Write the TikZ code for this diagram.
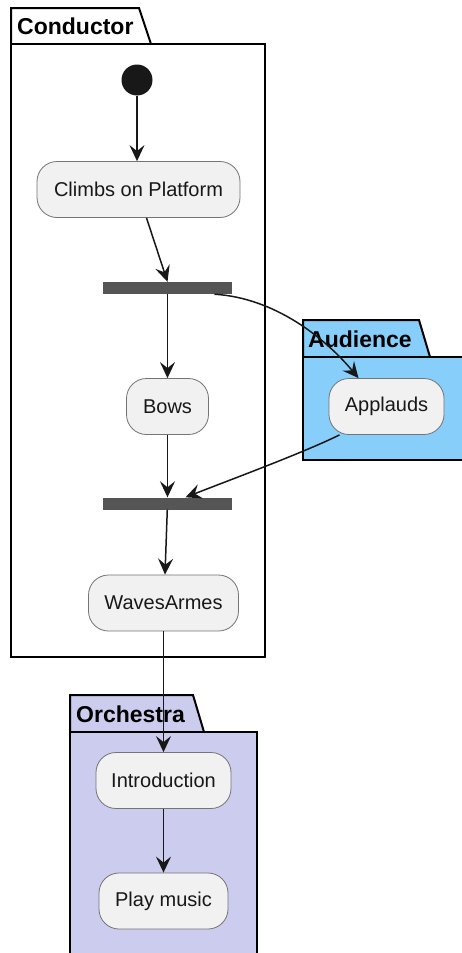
\documentclass[tikz,border=0pt]{standalone}
\usepackage{fontspec}
\setmainfont{Liberation Sans}
\usepackage{tikz}
\usetikzlibrary{arrows.meta,positioning}
\definecolor{ink}{HTML}{181818}
\definecolor{actfill}{HTML}{F1F1F1}
\definecolor{barfill}{HTML}{555555}
\definecolor{audfill}{HTML}{87CEFA}
\definecolor{orchfill}{HTML}{CCCCEE}

\begin{document}
\begin{tikzpicture}[x=1pt, y=-1pt, >={Stealth[length=16pt,width=15pt,inset=6pt]},
  every node/.style={font=\fontsize{20}{24}\selectfont},
  act/.style={draw=ink!60,line width=0.8pt,fill=actfill,rounded corners=20pt,inner sep=0pt,minimum height=56pt,text=ink},
  forkbar/.style={fill=barfill,inner sep=0pt,minimum width=129pt,minimum height=12pt},
  pkg/.style={draw=black,line width=2pt,line join=miter},
  pkgtitle/.style={anchor=west,inner sep=0pt,font=\fontsize{23}{27}\selectfont\bfseries},
  line/.style={->,line width=1.5pt,draw=ink}]
\useasboundingbox (0,0) rectangle (462,953);
\clip (0,0) rectangle (462,953);
\draw[pkg,fill=white] (11,8) -- (139,8) -- (151,44) -- (11,44) -- cycle;
\draw[pkg,fill=white] (11,44) rectangle (265,657);
\node[pkgtitle] (conductor) at (17,26) {Conductor};
\draw[pkg,fill=audfill] (303,320) -- (419,320) -- (430,357) -- (303,357) -- cycle;
\draw[pkg,fill=audfill] (303,357) rectangle (475,460);
\node[pkgtitle] (audience) at (308,339) {Audience};
\draw[pkg,fill=orchfill] (70,695) -- (193,695) -- (204,732) -- (70,732) -- cycle;
\draw[pkg,fill=orchfill] (70,732) rectangle (257,970);
\node[pkgtitle] (orchestra) at (76,714) {Orchestra};
\node[circle,fill=ink,minimum size=31pt,inner sep=0pt] (start) at (137,80) {};
\node[act,minimum width=203pt] (climbs) at (138.5,189.5) {Climbs on Platform};
\node[forkbar] (fork) at (167.5,288) {};
\node[act,minimum width=82pt] (bows) at (167.5,406.5) {Bows};
\node[act,minimum width=115pt] (applauds) at (386.5,406.5) {Applauds};
\node[forkbar] (join) at (167.5,503.5) {};
\node[act,minimum width=150pt] (waves) at (163.5,603) {WavesArmes};
\node[act,minimum width=135pt] (intro) at (163.5,780.5) {Introduction};
\node[act,minimum width=129pt] (play) at (163.5,901) {Play music};
\draw[line] (start) -- (start |- climbs.north);
\draw[line] ([xshift=8pt]climbs.south) -- (fork.north);
\draw[line] (fork) -- (bows);
\draw[line] ([xshift=47pt]fork.south) .. controls (275,298) and (325,338) .. ([xshift=-28pt]applauds.north);
\draw[line] ([xshift=-47pt]applauds.south) .. controls (305,452) and (235,478) .. ([xshift=18pt]join.north);
\draw[line] (bows) -- (join);
\draw[line] (join) -- ([xshift=1.5pt]waves.north);
\draw[line] (waves.south) -- (intro.north);
\draw[line] (intro) -- (play);
\end{tikzpicture}
\end{document}
